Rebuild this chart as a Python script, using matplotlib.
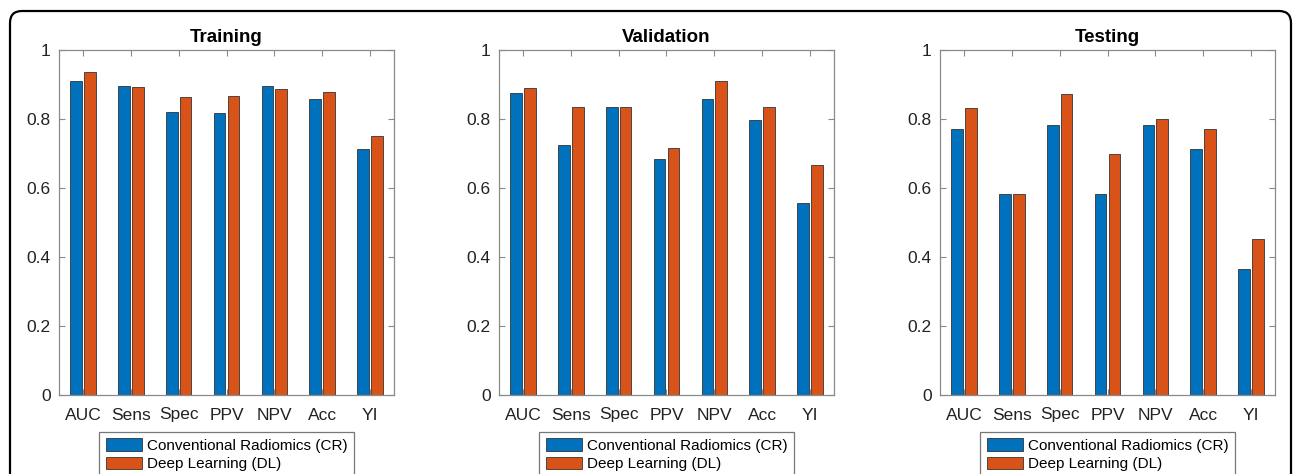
import numpy as np
import matplotlib
matplotlib.use("Agg")
import matplotlib.pyplot as plt
from matplotlib.patches import FancyBboxPatch
from matplotlib.transforms import IdentityTransform

# metric names along the x axis
metrics = ["AUC", "Sens", "Spec", "PPV", "NPV", "Acc", "YI"]

# values, one pair of lists per panel
train_cr = [0.911, 0.895, 0.820, 0.818, 0.897, 0.857, 0.713]
train_dl = [0.935, 0.892, 0.864, 0.868, 0.888, 0.878, 0.751]
valid_cr = [0.874, 0.724, 0.834, 0.685, 0.859, 0.797, 0.557]
valid_dl = [0.889, 0.834, 0.834, 0.715, 0.911, 0.834, 0.668]
test_cr = [0.770, 0.584, 0.783, 0.584, 0.783, 0.714, 0.366]
test_dl = [0.831, 0.584, 0.872, 0.700, 0.800, 0.772, 0.453]

titles = ["Training", "Validation", "Testing"]
series_names = ["Conventional Radiomics (CR)", "Deep Learning (DL)"]

plt.rcParams["font.family"] = ["Liberation Sans", "DejaVu Sans"]

W, H = 1293, 474
fig = plt.figure(figsize=(W / 100, H / 100), dpi=100)

blue = "#0072BD"
orange = "#D95319"
spine = "#8a8a8a"

panels = [(train_cr, train_dl), (valid_cr, valid_dl), (test_cr, test_dl)]
lefts = [59, 499, 940]
x = np.arange(1, len(metrics) + 1)

for left, title, (cr, dl) in zip(lefts, titles, panels):
    ax = fig.add_axes([left / W, (H - 395) / H, 335 / W, 345 / H])
    b1 = ax.bar(x - 0.145, cr, width=0.245, color=blue, edgecolor="#333333", linewidth=0.6)
    b2 = ax.bar(x + 0.145, dl, width=0.245, color=orange, edgecolor="#333333", linewidth=0.6)
    ax.set_xlim(0.5, 7.5)
    ax.set_ylim(0, 1)
    ax.set_xticks(x)
    ax.set_xticklabels(metrics)
    ax.set_yticks([0, 0.2, 0.4, 0.6, 0.8, 1])
    ax.set_yticklabels(["0", "0.2", "0.4", "0.6", "0.8", "1"])
    ax.tick_params(direction="in", length=4, width=0.8, color=spine,
                   top=True, right=True, labelsize=12.5, labelcolor="#222222", pad=6)
    ax.tick_params(axis="x", pad=9)
    for s in ax.spines.values():
        s.set_color(spine)
        s.set_linewidth(0.9)
    ax.set_title(title, fontsize=13.5, fontweight="bold", pad=6)
    cx = (left + 335 / 2) / W
    leg = ax.legend([b1, b2], series_names, loc="upper center",
                    bbox_to_anchor=(cx, (H - 432) / H), bbox_transform=fig.transFigure,
                    fontsize=11, fancybox=False, frameon=True, edgecolor="#555555",
                    handlelength=2.4, handleheight=0.9, labelspacing=0.25,
                    handletextpad=0.3, borderpad=0.4, borderaxespad=0)
    leg.get_frame().set_linewidth(0.9)

# rounded outer frame, open at the bottom of the image
frame = FancyBboxPatch((10, -40), 1281, H - 11 + 40,
                       boxstyle="round,pad=0,rounding_size=12",
                       transform=IdentityTransform(), fill=False,
                       edgecolor="black", linewidth=1.6)
fig.add_artist(frame)

fig.savefig("out.png", dpi=100)
